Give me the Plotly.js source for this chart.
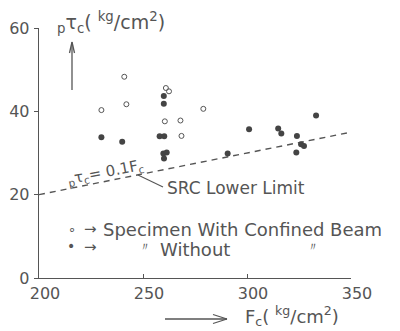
<!DOCTYPE html>
<html><head><meta charset="utf-8">
<script src="https://cdn.plot.ly/plotly-3.0.1.min.js"></script>
<style>html,body{margin:0;padding:0;background:#fff}#chart{width:400px;height:331px}</style>
</head><body><div id="chart"></div>
<script>
// Specimens with confined beam (open circles)
const confinedFc  = [241, 230, 242, 261, 262.5, 260.5, 268, 268.5, 279];
const confinedTau = [48.3, 40.3, 41.7, 45.6, 44.8, 37.6, 37.8, 34.1, 40.6];
// Specimens without confined beam (filled circles)
const withoutFc  = [230, 240, 260, 260, 258, 260.2, 259.8, 261.4, 260.1, 290.7, 301, 315, 316.5, 324, 326, 327.4, 323.7, 333.2];
const withoutTau = [33.8, 32.7, 43.7, 41.8, 34.0, 34.0, 29.9, 30.1, 28.7, 29.9, 35.7, 35.9, 34.7, 34.1, 32.1, 31.7, 30.1, 39.0];
// SRC lower limit  pτc = 0.1 Fc
const limitFc  = [200, 350];
const limitTau = [20, 35];
const xTicks = [200, 250, 300, 350];
const yTicks = [0, 20, 40, 60];

const INK = '#555';
const FONT = 'DejaVu Sans';
const L = 39, T = 28, W = 312, H = 250;
const px = x => (x - L) / W;
const py = y => (T + H - y) / H;

const traces = [
  {x: limitFc, y: limitTau, mode: 'lines', line: {color: INK, width: 1.4, dash: '6px,5px'}, hoverinfo: 'skip', cliponaxis: false},
  {x: confinedFc, y: confinedTau, mode: 'markers', marker: {symbol: 'circle-open', size: 5, color: INK, line: {width: 1, color: INK}}, cliponaxis: false},
  {x: withoutFc, y: withoutTau, mode: 'markers', marker: {symbol: 'circle', size: 6, color: '#444'}, cliponaxis: false}
];

function seg(x0, y0, x1, y1, w) {
  return {type: 'line', xref: 'paper', yref: 'paper', x0: px(x0), y0: py(y0), x1: px(x1), y1: py(y1), line: {color: INK, width: w || 1.3}};
}
function txt(text, x, y, size, xanchor, extra) {
  return Object.assign({text: text, xref: 'paper', yref: 'paper', x: px(x), y: py(y), xanchor: xanchor || 'left', yanchor: 'middle', showarrow: false, font: {family: FONT, size: size, color: INK}}, extra || {});
}

const layout = {
  width: 400, height: 331,
  margin: {l: L, r: 400 - L - W, t: T, b: 331 - T - H, pad: 0},
  paper_bgcolor: '#fff', plot_bgcolor: '#fff',
  showlegend: false,
  xaxis: {range: [200, 350], tickvals: xTicks, ticktext: xTicks.map(String), showgrid: false, zeroline: false,
          showline: true, linecolor: INK, linewidth: 1.3, ticks: 'inside', ticklen: 4, tickcolor: INK,
          ticklabelshift: 6, ticklabelstandoff: 0,
          tickfont: {family: FONT, size: 16, color: INK}},
  yaxis: {range: [0, 60], tickvals: yTicks, ticktext: yTicks.map(String), showgrid: false, zeroline: false,
          showline: true, linecolor: INK, linewidth: 1.3, ticks: 'outside', ticklen: 4, tickcolor: INK,
          ticklabelstandoff: 1,
          tickfont: {family: FONT, size: 16, color: INK}},
  shapes: [
    // up arrow under y title
    seg(72, 90, 72, 43), seg(72, 42, 69.5, 53), seg(72, 42, 74.5, 53),
    // leader line to SRC Lower Limit
    seg(138, 175, 163, 187, 1.1),
    // x title arrow
    seg(165, 319, 227, 319), seg(227, 319, 213, 314.5), seg(227, 319, 213, 323.5)
  ],
  annotations: [
    txt('<sub>p</sub>τ<sub>c</sub>( <sup>kg</sup>/cm<sup>2</sup>)', 55, 23, 19),
    txt('<sub>p</sub>τ<sub>c</sub>= 0.1F<sub>c</sub>', 105, 172, 15, 'center', {textangle: -11}),
    txt('SRC Lower Limit', 165, 188, 17),
    txt('∘', 72, 229, 13, 'center'),
    txt('→', 90, 229, 15, 'center'),
    txt('Specimen With Confined Beam', 101, 229, 18),
    txt('•', 71, 246, 14, 'center'),
    txt('→', 90, 247, 15, 'center'),
    txt('〃', 145, 247, 12, 'center'),
    txt('Without', 158, 249, 18),
    txt('〃', 313, 247, 12, 'center'),
    txt('F<sub>c</sub>( <sup>kg</sup>/cm<sup>2</sup>)', 243, 316, 18)
  ]
};

Plotly.newPlot('chart', traces, layout, {displayModeBar: false, staticPlot: true});
</script></body></html>
